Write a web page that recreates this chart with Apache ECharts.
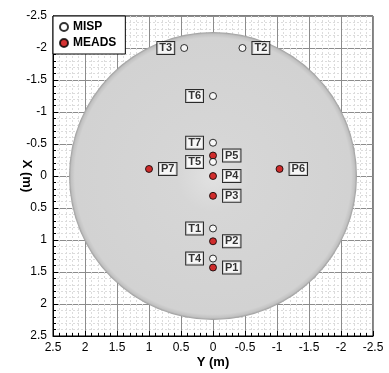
<!DOCTYPE html>
<html>
<head>
<meta charset="utf-8">
<script src="https://cdn.jsdelivr.net/npm/echarts@6/dist/echarts.min.js"></script>
<style>
  html, body { margin: 0; padding: 0; background: #fff; }
</style>
</head>
<body>
<div id="main" style="width:389px; height:373px;"></div>
<script>
// probe positions (metres)
var mispNames = ['T1', 'T2', 'T3', 'T4', 'T5', 'T6', 'T7'];
var mispY = [0, -0.46, 0.45, 0, 0, 0, 0];
var mispX = [0.82, -2.0, -2.0, 1.29, -0.22, -1.25, -0.52];

var meadsNames = ['P1', 'P2', 'P3', 'P4', 'P5', 'P6', 'P7'];
var meadsY = [0, 0, 0, 0, 0, -1.04, 1.0];
var meadsX = [1.43, 1.02, 0.31, 0.0, -0.32, -0.11, -0.11];

// gray disc behind the probes
var discRadius = 2.25;

var axisTicks = [-2.5, -2, -1.5, -1, -0.5, 0, 0.5, 1, 1.5, 2, 2.5];

var font = 'Arial, "Liberation Sans", Helvetica, sans-serif';

function labelBox(pos) {
  return {
    show: true,
    position: pos,
    distance: 6,
    formatter: '{b}',
    fontFamily: font,
    fontWeight: 'bold',
    fontSize: 11,
    lineHeight: 11,
    color: '#000',
    backgroundColor: '#fff',
    borderColor: '#000',
    borderWidth: 1,
    padding: [1, 2, 0, 2]
  };
}

var mispData = mispNames.map(function (n, i) {
  return { name: n, value: [mispY[i], mispX[i]], label: labelBox(mispY[i] < 0 ? 'right' : 'left') };
});
var meadsData = meadsNames.map(function (n, i) {
  return { name: n, value: [meadsY[i], meadsX[i]], label: labelBox('right') };
});

function valueAxis(name, extra) {
  var ax = {
    type: 'value',
    inverse: true,
    min: axisTicks[0],
    max: axisTicks[axisTicks.length - 1],
    interval: 0.5,
    name: name,
    nameLocation: 'middle',
    nameMoveOverlap: false,
    nameTextStyle: { fontFamily: font, fontWeight: 'bold', fontSize: 13, color: '#000' },
    axisLine: { show: true, onZero: false, lineStyle: { color: '#000', width: 1 } },
    axisTick: { show: true, inside: true, length: 5, lineStyle: { color: '#000' } },
    minorTick: { show: true, splitNumber: 5, length: 3, lineStyle: { color: '#000' } },
    axisLabel: { fontFamily: font, fontSize: 12, color: '#000', margin: 6 },
    splitLine: { show: true, lineStyle: { color: '#8c8c8c', width: 1 } },
    minorSplitLine: { show: true, lineStyle: { color: '#dcdcdc', type: [2, 2], width: 1 } }
  };
  for (var k in extra) ax[k] = extra[k];
  return ax;
}

var chart = echarts.init(document.getElementById('main'));
chart.setOption({
  animation: false,
  grid: {
    left: 53, right: 16, top: 16, bottom: 37,
    containLabel: false,
    outerBoundsMode: 'none',
    show: true, borderColor: '#000', borderWidth: 1, backgroundColor: 'transparent'
  },
  xAxis: valueAxis('Y (m)', { nameGap: 20 }),
  yAxis: valueAxis('X (m)', { nameGap: 20, nameRotate: -90 }),
  legend: {
    data: ['MISP', 'MEADS'],
    orient: 'vertical',
    left: 53,
    top: 16,
    backgroundColor: '#fff',
    borderColor: '#000',
    borderWidth: 1,
    borderRadius: 0,
    padding: [5, 9, 5, 6],
    itemGap: 4,
    itemWidth: 8,
    itemHeight: 8,
    textStyle: { fontFamily: font, fontWeight: 'bold', fontSize: 12, color: '#000' }
  },
  series: [
    {
      type: 'custom',
      name: 'disc',
      silent: true,
      z: 1,
      data: [[0, 0]],
      renderItem: function (params, api) {
        var c = api.coord([api.value(0), api.value(1)]);
        var r = api.size([discRadius, 0])[0];
        return {
          type: 'circle',
          shape: { cx: c[0], cy: c[1], r: r },
          style: {
            fill: {
              type: 'radial', x: 0.5, y: 0.5, r: 0.5,
              colorStops: [
                { offset: 0, color: '#e2e2e2' },
                { offset: 0.25, color: '#d6d6d6' },
                { offset: 0.96, color: '#d2d2d2' },
                { offset: 0.985, color: '#c2c2c2' },
                { offset: 1, color: '#9a9a9a' }
              ]
            }
          }
        };
      }
    },
    {
      type: 'scatter',
      name: 'MEADS',
      z: 3,
      symbol: 'circle',
      symbolSize: 7,
      itemStyle: { color: '#cc0000', borderColor: '#000', borderWidth: 1 },
      data: meadsData
    },
    {
      type: 'scatter',
      name: 'MISP',
      z: 4,
      symbol: 'circle',
      symbolSize: 7,
      itemStyle: { color: '#fff', borderColor: '#000', borderWidth: 1 },
      data: mispData
    }
  ]
});
</script>
</body>
</html>
